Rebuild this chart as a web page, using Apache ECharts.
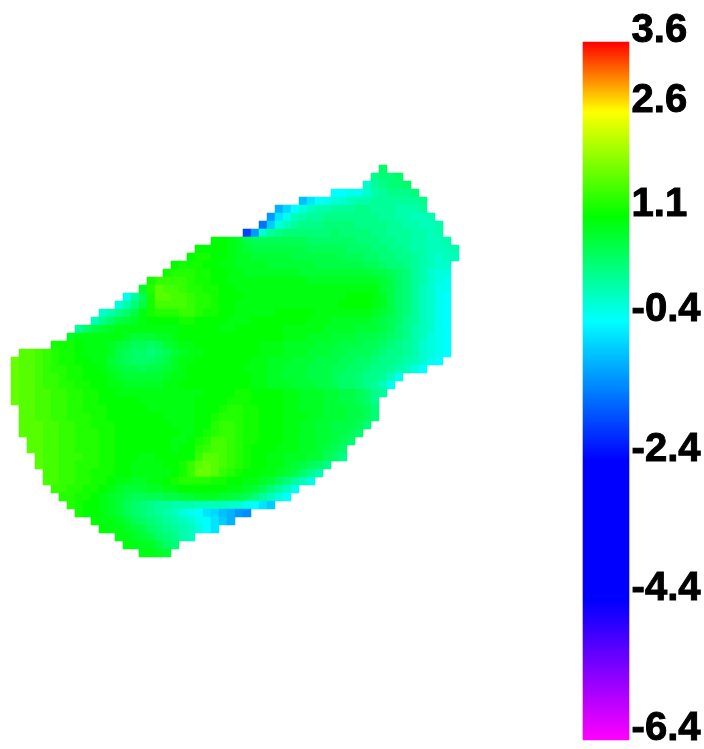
<!DOCTYPE html>
<html><head><meta charset="utf-8"><style>html,body{margin:0;padding:0;background:#fff}#c{width:704px;height:749px}</style>
<script src="https://cdn.jsdelivr.net/npm/echarts@6/dist/echarts.min.js"></script></head><body><div id="c"></div>
<script>
const tickLabels=[3.6,2.6,1.1,-0.4,-2.4,-4.4,-6.4];
const scaleMin=-6.4, scaleMax=3.6;
const rampColors=['#ff00ff','#bf00ff','#8000ff','#4000ff','#0000ff','#0000ff','#0000ff','#0000ff','#0000ff','#0040ff','#0080ff','#00bfff','#00ffff','#00ffaa','#00ff55','#00ff00','#55ff00','#aaff00','#ffff00','#ff8000','#ff0000'];
const columnCount=56;
const rowStart=[46,45,44,40,36,33,32,31,29,25,23,22,20,19,17,16,14,13,11,10,8,7,5,1,0,0,0,0,0,0,1,1,1,1,2,2,3,3,4,4,5,6,7,8,10,11,13,14,16];
const rowValues=[
[0.5],
[0.3,0.4,0.4,0.5],
[-0.1,0.2,0.3,0.4,0.4,0.5],
[-0.4,-0.4,-0.3,-0.3,-0.1,0.1,0.2,0.3,0.3,0.3,0.4],
[-0.9,-0.6,-0.4,-0.3,-0.2,-0.1,0,0.1,0.1,0.2,0.2,0.2,0.2,0.2,0.2,0.3],
[-1.0,-0.7,-0.4,-0.2,0,0.1,0.1,0.2,0.2,0.2,0.3,0.3,0.2,0.2,0.2,0.1,0.1,0.1,0.2],
[-1.2,-0.6,-0.3,0,0.1,0.2,0.2,0.3,0.3,0.3,0.3,0.3,0.3,0.3,0.2,0.2,0.1,0.1,0,0,0.1],
[-1.5,-0.8,-0.2,0,0.2,0.3,0.3,0.3,0.4,0.4,0.4,0.4,0.3,0.3,0.3,0.3,0.2,0.2,0.1,0.1,0,0,0.1],
[-1.9,-1.2,-0.1,0.2,0.3,0.4,0.4,0.4,0.4,0.4,0.4,0.5,0.4,0.4,0.4,0.4,0.3,0.3,0.2,0.2,0.2,0.1,0.1,0,0.1],
[1.1,1.1,1.0,0.9,0.7,0.6,0.6,0.6,0.6,0.6,0.6,0.6,0.5,0.5,0.5,0.5,0.5,0.5,0.4,0.4,0.4,0.3,0.3,0.2,0.2,0.1,0.1,0,0,0.1],
[1.1,1.1,1.1,1.1,1.0,0.9,0.8,0.7,0.7,0.7,0.7,0.7,0.7,0.7,0.6,0.6,0.6,0.6,0.6,0.5,0.5,0.5,0.4,0.4,0.3,0.3,0.2,0.1,0.1,0,0,0,0.1],
[1.1,1.2,1.2,1.1,1.1,1.0,0.9,0.9,0.8,0.8,0.8,0.8,0.8,0.7,0.7,0.7,0.7,0.7,0.7,0.6,0.6,0.6,0.5,0.5,0.4,0.4,0.3,0.3,0.2,0.1,0,-0.1,0,0],
[1.1,1.2,1.2,1.2,1.1,1.1,1.0,1.0,0.9,0.9,0.9,0.9,0.8,0.8,0.8,0.8,0.8,0.8,0.7,0.7,0.7,0.7,0.7,0.7,0.6,0.6,0.5,0.4,0.4,0.3,0.2,0.1,0,-0.1,-0.1],
[1.2,1.3,1.3,1.3,1.2,1.2,1.1,1.1,1.0,1.0,0.9,0.9,0.9,0.9,0.9,0.9,0.9,0.8,0.8,0.8,0.8,0.8,0.8,0.8,0.8,0.8,0.7,0.7,0.6,0.5,0.4,0.2,0.1,-0.1,-0.2,-0.2],
[1.2,1.4,1.4,1.4,1.4,1.3,1.2,1.2,1.1,1.1,1.0,1.0,1.0,1.0,1.0,1.0,1.0,1.0,1.0,1.0,0.9,0.9,0.9,0.9,0.9,0.9,0.9,0.9,0.9,0.8,0.7,0.5,0.4,0.2,0.1,-0.1,-0.2,-0.3],
[0.9,1.3,1.6,1.5,1.5,1.4,1.3,1.3,1.2,1.2,1.1,1.1,1.0,1.0,1.0,1.0,1.0,1.0,1.0,1.0,1.0,1.0,1.0,1.0,1.0,1.0,1.0,1.0,1.0,1.0,0.8,0.7,0.5,0.4,0.2,0,-0.1,-0.3,-0.3],
[-0.3,0.2,0.6,1.2,1.6,1.6,1.5,1.5,1.4,1.3,1.3,1.2,1.1,1.1,1.1,1.0,1.0,1.0,1.0,1.0,1.0,1.0,1.0,1.0,1.0,1.0,1.0,1.0,1.1,1.1,1.1,1.0,0.9,0.7,0.5,0.4,0.2,0,-0.1,-0.3,-0.4],
[-0.2,0.1,0.4,0.7,1.2,1.5,1.5,1.5,1.5,1.4,1.3,1.3,1.2,1.1,1.1,1.0,1.0,1.0,1.0,1.0,1.0,1.0,1.0,1.0,1.0,1.0,1.0,1.0,1.1,1.1,1.1,1.1,1.0,0.9,0.7,0.5,0.4,0.2,0,-0.1,-0.3,-0.4],
[-0.1,0.1,0.3,0.5,0.7,1.0,1.2,1.3,1.3,1.3,1.4,1.4,1.3,1.2,1.2,1.1,1.1,1.0,1.0,1.0,1.0,1.0,1.1,1.1,1.1,1.1,1.1,1.0,1.0,1.0,1.0,1.0,1.0,1.0,0.9,0.8,0.7,0.5,0.4,0.2,0,-0.1,-0.3,-0.4],
[0,0.3,0.5,0.7,0.8,0.9,1.0,1.1,1.1,1.1,1.1,1.2,1.2,1.1,1.1,1.1,1.1,1.0,1.0,1.0,1.1,1.1,1.1,1.1,1.1,1.1,1.1,1.0,1.0,1.0,0.9,0.9,0.9,0.9,0.9,0.8,0.7,0.6,0.5,0.3,0.2,0,-0.1,-0.3,-0.4],
[0.2,0.5,0.7,0.8,0.9,1.0,1.0,1.0,1.0,1.0,1.0,1.0,1.0,1.1,1.1,1.1,1.1,1.1,1.0,1.0,1.1,1.1,1.1,1.1,1.1,1.1,1.0,1.0,1.0,1.0,1.0,0.9,0.9,0.9,0.9,0.8,0.8,0.8,0.7,0.6,0.4,0.3,0.1,0,-0.1,-0.3,-0.4],
[0.9,1.0,1.0,1.0,1.0,1.0,1.0,0.9,0.8,0.8,0.8,0.9,0.9,1.0,1.1,1.1,1.1,1.1,1.1,1.1,1.1,1.1,1.1,1.1,1.1,1.1,1.1,1.0,1.0,1.0,0.9,0.9,0.9,0.8,0.8,0.8,0.7,0.7,0.7,0.6,0.5,0.4,0.3,0.1,0,-0.2,-0.3,-0.4],
[1.2,1.2,1.2,1.1,1.0,1.0,1.0,0.9,0.8,0.7,0.6,0.6,0.5,0.6,0.8,0.9,1.0,1.0,1.1,1.1,1.1,1.1,1.1,1.1,1.1,1.1,1.0,1.0,1.0,0.9,0.9,0.9,0.9,0.8,0.8,0.8,0.7,0.7,0.7,0.6,0.6,0.5,0.4,0.3,0.2,0.1,-0.1,-0.2,-0.3,-0.4],
[1.6,1.6,1.5,1.4,1.3,1.2,1.2,1.1,1.0,1.0,1.0,0.9,0.7,0.6,0.5,0.5,0.4,0.5,0.6,0.8,0.9,1.0,1.0,1.1,1.1,1.1,1.1,1.1,1.1,1.1,1.0,1.0,1.0,0.9,0.9,0.9,0.8,0.8,0.8,0.7,0.7,0.6,0.6,0.6,0.5,0.4,0.3,0.3,0.2,0.1,-0.1,-0.2,-0.3,-0.4],
[1.7,1.6,1.6,1.5,1.4,1.3,1.2,1.2,1.1,1.1,1.0,1.0,0.8,0.7,0.6,0.5,0.5,0.5,0.6,0.7,0.9,1.0,1.0,1.1,1.1,1.1,1.1,1.1,1.1,1.1,1.0,1.0,0.9,0.9,0.9,0.8,0.8,0.8,0.7,0.7,0.7,0.6,0.6,0.5,0.5,0.4,0.3,0.3,0.2,0.1,0,-0.1,-0.3,-0.4],
[1.7,1.6,1.6,1.5,1.4,1.3,1.3,1.2,1.2,1.1,1.1,1.0,0.9,0.8,0.7,0.7,0.6,0.7,0.7,0.8,0.9,1.0,1.1,1.1,1.1,1.1,1.1,1.1,1.1,1.0,1.0,1.0,0.9,0.9,0.8,0.8,0.8,0.7,0.7,0.7,0.6,0.6,0.5,0.5,0.4,0.3,0.3,0.2,0.1,0,-0.2,-0.4],
[1.7,1.6,1.6,1.5,1.4,1.4,1.3,1.2,1.2,1.1,1.1,1.1,1.0,0.9,0.8,0.8,0.8,0.8,0.8,0.9,1.0,1.0,1.1,1.1,1.1,1.1,1.1,1.1,1.1,1.1,1.0,1.0,0.9,0.9,0.8,0.8,0.8,0.7,0.7,0.7,0.6,0.5,0.5,0.4,0.3,0.3,0.2,0,-0.3],
[1.7,1.6,1.6,1.5,1.4,1.4,1.3,1.3,1.2,1.2,1.1,1.1,1.0,1.0,0.9,0.9,0.9,0.9,0.9,1.0,1.0,1.1,1.1,1.1,1.1,1.1,1.1,1.1,1.1,1.1,1.0,1.0,0.9,0.9,0.9,0.8,0.8,0.8,0.7,0.7,0.6,0.5,0.5,0.4,0.3,0.2,0,-0.3],
[1.7,1.6,1.6,1.5,1.5,1.4,1.4,1.3,1.3,1.2,1.2,1.1,1.1,1.0,1.0,1.0,1.0,1.0,1.0,1.0,1.0,1.0,1.0,1.0,1.1,1.1,1.1,1.1,1.2,1.2,1.1,1.1,1.1,1.1,1.0,1.0,0.9,0.9,0.9,0.8,0.8,0.7,0.7,0.6,0.5,0.3,0.2],
[1.7,1.6,1.6,1.5,1.5,1.4,1.4,1.3,1.3,1.2,1.2,1.1,1.1,1.1,1.1,1.1,1.0,1.0,1.0,1.0,1.0,1.0,1.0,1.1,1.1,1.1,1.1,1.2,1.2,1.2,1.1,1.1,1.1,1.1,1.0,1.0,0.9,0.9,0.9,0.8,0.8,0.7,0.7,0.6,0.5,0.3],
[1.6,1.6,1.5,1.5,1.4,1.4,1.3,1.3,1.2,1.2,1.2,1.1,1.1,1.1,1.1,1.1,1.0,1.0,1.0,1.0,1.0,1.0,1.1,1.1,1.1,1.2,1.3,1.3,1.2,1.2,1.1,1.1,1.1,1.0,1.0,0.9,0.9,0.9,0.8,0.8,0.8,0.7,0.7,0.6,0.4],
[1.6,1.6,1.5,1.5,1.4,1.4,1.3,1.3,1.3,1.2,1.2,1.1,1.1,1.1,1.1,1.1,1.1,1.1,1.0,1.0,1.0,1.0,1.1,1.1,1.2,1.3,1.3,1.3,1.2,1.2,1.1,1.1,1.1,1.0,1.0,1.0,0.9,0.9,0.8,0.8,0.8,0.7,0.7,0.6,0.4],
[1.6,1.6,1.6,1.5,1.5,1.4,1.4,1.3,1.3,1.2,1.2,1.2,1.1,1.1,1.1,1.1,1.1,1.1,1.1,1.0,1.0,1.0,1.1,1.1,1.3,1.4,1.4,1.3,1.2,1.2,1.1,1.1,1.1,1.0,1.0,0.9,0.9,0.8,0.8,0.7,0.7,0.7,0.6,0.4],
[1.6,1.6,1.6,1.5,1.5,1.4,1.4,1.3,1.3,1.3,1.2,1.2,1.1,1.1,1.1,1.1,1.1,1.1,1.1,1.1,1.0,1.0,1.1,1.2,1.3,1.4,1.4,1.3,1.2,1.2,1.1,1.1,1.1,1.0,1.0,0.9,0.9,0.8,0.8,0.7,0.7,0.6,0.5],
[1.6,1.6,1.5,1.5,1.4,1.4,1.3,1.3,1.3,1.2,1.2,1.1,1.1,1.1,1.1,1.1,1.1,1.1,1.0,1.0,1.1,1.2,1.3,1.5,1.5,1.4,1.3,1.2,1.2,1.1,1.1,1.1,1.0,1.0,0.9,0.9,0.8,0.8,0.7,0.6,0.5],
[1.6,1.6,1.5,1.5,1.4,1.4,1.3,1.3,1.3,1.2,1.2,1.1,1.1,1.1,1.1,1.1,1.1,1.1,1.0,1.1,1.1,1.3,1.4,1.5,1.5,1.4,1.3,1.2,1.1,1.1,1.1,1.0,1.0,1.0,0.9,0.9,0.8,0.7,0.6,0.5],
[1.6,1.5,1.5,1.4,1.4,1.4,1.3,1.3,1.2,1.2,1.1,1.1,1.1,1.0,1.0,1.1,1.1,1.1,1.1,1.1,1.4,1.6,1.6,1.5,1.4,1.3,1.2,1.1,1.1,1.0,1.0,0.9,0.9,0.9,0.8,0.8,0.6,0.5,0.3],
[1.6,1.5,1.5,1.4,1.4,1.3,1.3,1.3,1.2,1.2,1.1,1.1,1.0,1.0,1.0,1.0,1.1,1.1,1.2,1.4,1.6,1.7,1.6,1.5,1.4,1.3,1.2,1.1,1.1,1.0,1.0,0.9,0.8,0.7,0.6,0.5,0.3],
[1.5,1.5,1.4,1.4,1.3,1.3,1.2,1.2,1.2,1.1,1.1,1.0,1.0,1.0,1.0,1.0,1.1,1.2,1.4,1.7,1.7,1.6,1.4,1.3,1.2,1.1,1.1,1.0,1.0,0.9,0.8,0.7,0.5,0.3,0.1],
[1.5,1.5,1.4,1.4,1.3,1.3,1.2,1.2,1.1,1.0,1.0,0.9,0.9,1.0,1.0,1.1,1.2,1.3,1.3,1.3,1.3,1.2,1.2,1.1,1.1,1.0,1.0,0.9,0.8,0.6,0.4,0.2,0,-0.2],
[1.4,1.4,1.3,1.3,1.2,1.2,1.1,1.0,0.9,0.8,0.8,0.8,0.9,0.9,1.0,1.0,1.1,1.1,1.1,1.1,1.1,1.1,1.0,1.0,0.9,0.8,0.6,0.4,0.2,0,-0.3],
[1.3,1.3,1.2,1.2,1.1,1.0,0.9,0.8,0.7,0.6,0.6,0.6,0.6,0.7,0.7,0.8,0.8,0.9,0.9,0.9,0.8,0.8,0.7,0.6,0.4,0.2,0,-0.2,-0.4],
[1.3,1.2,1.1,1.1,1.0,0.9,0.8,0.6,0.5,0.4,0.3,0.2,0.2,0.1,0.1,0.1,0,0,0,0,-0.1,-0.1,-0.3,-0.4,-0.6,-0.8],
[1.2,1.1,1.1,1.0,0.9,0.8,0.6,0.5,0.4,0.3,0.2,0.1,0,-0.2,-0.3,-0.4,-0.6,-0.7,-0.9,-1.0,-1.2,-1.3],
[1.1,1.0,1.0,0.9,0.8,0.6,0.5,0.4,0.3,0.2,0.1,0,-0.1,-0.3,-0.4,-0.6,-0.8,-1.0],
[1.1,1.0,1.0,0.9,0.8,0.7,0.5,0.4,0.3,0.2,0.1,0,-0.2,-0.4,-0.6],
[1.0,1.0,0.9,0.8,0.7,0.5,0.4,0.3,0.1,0],
[1.0,1.0,0.9,0.9,0.7,0.5,0.4],
[1.0,1.0,0.9,0.8]
];
const cells=[];
rowValues.forEach((vals,r)=>vals.forEach((v,i)=>cells.push([rowStart[r]+i,r,v])));
const cols=Array.from({length:columnCount},(_,i)=>i);
const rows=rowValues.map((_,i)=>i);
// colour-bar strip: one cell per legend step, from the top of the scale to the bottom
const barSteps=349;
const barRows=Array.from({length:barSteps},(_,i)=>i);
const barCells=barRows.map(i=>[0,i,scaleMax-(scaleMax-scaleMin)*(i+0.5)/barSteps]);
const chart=echarts.init(document.getElementById('c'),null,{renderer:'canvas'});
chart.setOption({
  animation:false,backgroundColor:'#fff',
  grid:[{left:11,top:165,width:448,height:392},{left:583,top:42,width:46,height:698},{left:583,top:31,width:46,height:700}],
  xAxis:[{type:'category',data:cols,gridIndex:0,show:false},{type:'category',data:[0],gridIndex:1,show:false},{type:'value',gridIndex:2,show:false}],
  yAxis:[{type:'category',data:rows,inverse:true,gridIndex:0,show:false},
    {type:'category',data:barRows,inverse:true,gridIndex:1,show:false},
    {type:'value',gridIndex:2,position:'right',min:scaleMin,max:scaleMax,splitLine:{show:false},axisLine:{show:false},axisTick:{show:false},
     axisLabel:{show:true,customValues:tickLabels,margin:4,formatter:v=>Number(v).toFixed(1),color:'#000',fontFamily:'Liberation Sans',fontWeight:'bold',fontSize:40,textBorderColor:'#000',textBorderWidth:1}}],
  visualMap:{type:'continuous',show:false,seriesIndex:[0,1],dimension:2,min:scaleMin,max:scaleMax,inRange:{color:rampColors}},
  series:[
   {type:'heatmap',coordinateSystem:'cartesian2d',xAxisIndex:0,yAxisIndex:0,data:cells,itemStyle:{borderWidth:0},progressive:0,emphasis:{disabled:true}},
   {type:'heatmap',coordinateSystem:'cartesian2d',xAxisIndex:1,yAxisIndex:1,data:barCells,itemStyle:{borderWidth:0},progressive:0,emphasis:{disabled:true}}
  ]
});
</script></body></html>
